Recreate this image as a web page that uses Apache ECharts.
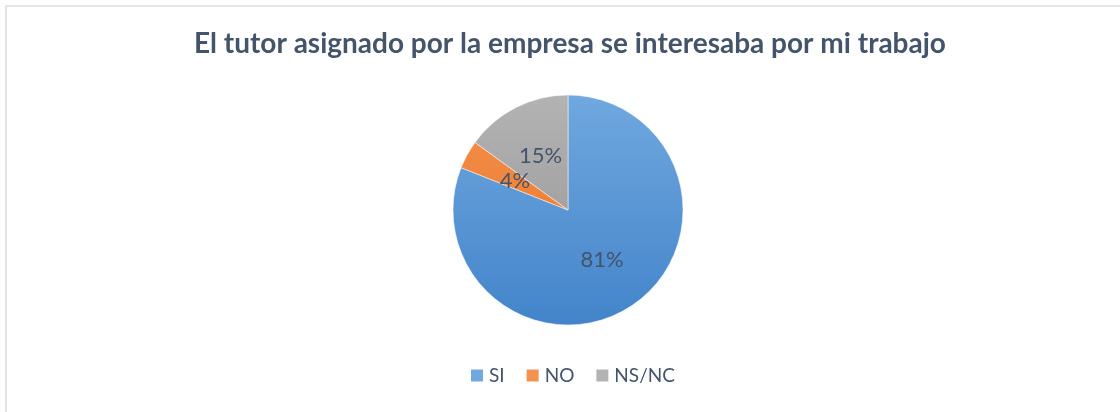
<!DOCTYPE html>
<html>
<head>
<meta charset="utf-8">
<script src="https://cdn.jsdelivr.net/npm/echarts@6/dist/echarts.min.js"></script>
<style>
  html, body { margin: 0; padding: 0; background: #fff; }
  #frame { position: absolute; left: 5px; top: 5px; width: 1200px; height: 500px;
           border-left: 2px solid #e0e5ec; border-top: 2px solid #e0e5ec; }
  #chart { position: absolute; left: 0; top: 0; width: 1120px; height: 412px; }
</style>
</head>
<body>
<div id="frame"></div>
<div id="chart"></div>
<script>
  // datos de la encuesta
  var categorias = ['SI', 'NO', 'NS/NC'];
  var valores = [81, 4, 15];
  var coloresArriba = ['#70a8df', '#f5924f', '#b3b3b3'];
  var coloresAbajo = ['#4384ca', '#e8701f', '#939393'];

  var chart = echarts.init(document.getElementById('chart'));

  var datos = categorias.map(function (c, i) {
    return {
      name: c,
      value: valores[i],
      itemStyle: {
        // degradado sobre todo el circulo (coordenadas en pixeles)
        color: new echarts.graphic.LinearGradient(0, 95, 0, 325, [
          { offset: 0, color: coloresArriba[i] },
          { offset: 1, color: coloresAbajo[i] }
        ], true)
      }
    };
  });

  var option = {
    animation: false,
    title: {
      text: 'El tutor asignado por la empresa se interesaba por mi trabajo',
      left: 189,
      top: 25,
      textStyle: {
        fontFamily: 'Lato',
        fontWeight: 'bold',
        fontSize: 28,
        color: '#44546a'
      }
    },
    legend: {
      bottom: 22,
      left: 464,
      itemWidth: 14,
      itemHeight: 14,
      itemGap: 20,
      icon: 'rect',
      data: categorias,
      textStyle: {
        fontFamily: 'Lato',
        fontSize: 19,
        color: '#44546a'
      }
    },
    series: [{
      type: 'pie',
      center: [568, 210],
      radius: 115,
      startAngle: 90,
      clockwise: true,
      data: datos,
      itemStyle: { borderColor: '#fff', borderWidth: 0.5 },
      label: {
        position: 'inside',
        formatter: '{c}%',
        fontFamily: 'Lato',
        fontSize: 22,
        color: '#44546a'
      },
      labelLine: { show: false }
    }]
  };

  chart.setOption(option);
</script>
</body>
</html>
